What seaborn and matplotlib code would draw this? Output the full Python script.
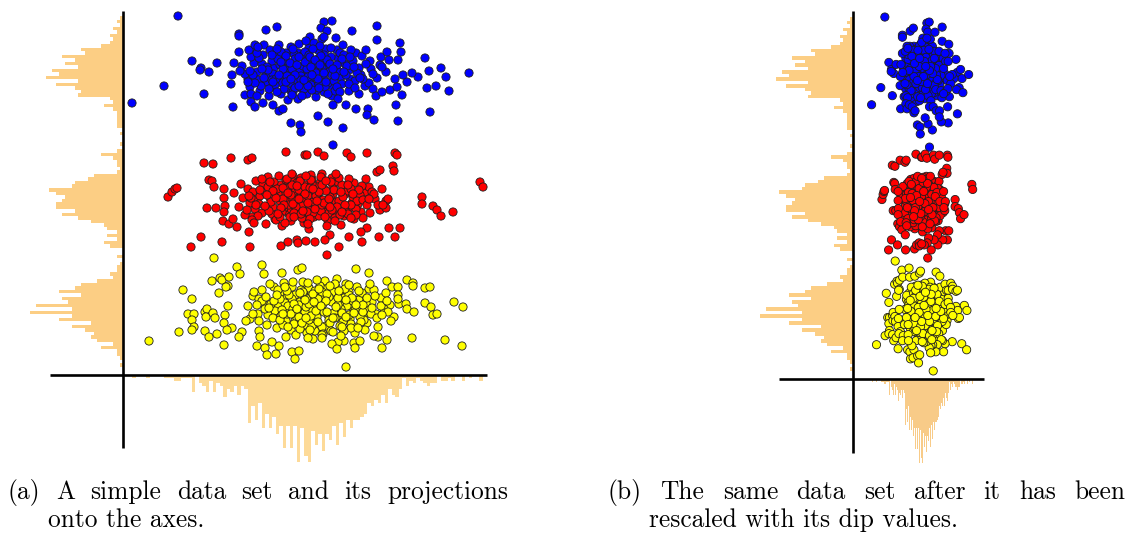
import numpy as np
import pandas as pd
import seaborn as sns
import matplotlib
matplotlib.use("Agg")
import matplotlib.pyplot as plt
from matplotlib.lines import Line2D

# ---------------------------------------------------------------------------
# Data: three clusters of (x, y) observations
# ---------------------------------------------------------------------------
blue_pts = [
    (152, 318), (201, 296), (175, 322), (190, 289), (143, 301), (222, 311), (168, 284), (186, 327), (131, 312), (209, 279),
    (177, 305), (160, 297), (238, 300), (195, 316), (148, 288), (214, 325), (182, 292), (125, 296), (199, 336), (171, 313),
    (156, 330), (229, 287), (188, 303), (140, 320), (205, 309), (165, 275), (247, 314), (184, 281), (119, 309), (218, 298),
    (173, 291), (196, 324), (151, 307), (233, 322), (162, 316), (209, 289), (187, 338), (137, 284), (226, 305), (179, 319),
    (145, 298), (201, 283), (168, 328), (254, 297), (190, 310), (131, 326), (215, 317), (158, 281), (242, 289), (176, 297),
    (193, 278), (149, 314), (220, 330), (183, 300), (127, 288), (206, 303), (164, 309), (236, 281), (171, 321), (198, 293),
    (141, 330), (212, 284), (185, 315), (159, 292), (248, 306), (178, 287), (203, 326), (134, 303), (227, 296), (166, 302),
    (191, 332), (154, 322), (219, 291), (180, 309), (146, 279), (208, 318), (174, 294), (239, 319), (161, 286), (196, 305),
    (128, 318), (224, 309), (187, 296), (150, 301), (213, 337), (170, 283), (199, 312), (143, 293), (232, 294), (182, 323),
    (157, 310), (205, 292), (176, 331), (263, 303), (139, 311), (217, 322), (165, 296), (194, 285), (122, 301), (230, 314),
    (184, 306), (152, 290), (209, 300), (172, 316), (246, 292), (135, 295), (201, 320), (163, 322), (188, 290), (226, 284),
    (147, 325), (215, 304), (178, 299), (257, 310), (154, 283), (197, 329), (169, 306), (221, 320), (138, 289), (192, 298),
    (181, 286), (204, 315), (160, 303), (236, 307), (175, 276), (144, 308), (211, 294), (186, 320), (130, 300), (223, 300),
    (167, 292), (199, 307), (155, 316), (250, 301), (182, 313), (214, 288), (149, 295), (190, 326), (172, 287), (240, 296),
    (136, 317), (207, 311), (164, 299), (228, 325), (178, 295), (193, 302), (158, 323), (217, 283), (185, 298), (145, 305),
    (272, 296), (127, 304), (243, 311), (169, 280), (202, 288), (153, 296), (234, 302), (187, 318), (161, 314), (196, 291),
    (167, 312), (212, 299), (189, 285), (154, 326), (231, 308), (176, 289), (198, 319), (141, 297), (219, 316), (183, 334),
    (160, 306), (205, 281), (172, 300), (243, 325), (150, 293), (195, 296), (226, 291), (163, 319), (188, 308), (134, 322),
    (214, 310), (179, 279), (201, 302), (156, 300), (237, 297), (170, 326), (192, 315), (146, 286), (221, 303), (185, 289),
    (258, 318), (139, 306), (208, 327), (174, 310), (196, 287), (232, 287), (163, 293), (210, 306), (181, 295), (149, 320),
    (250, 286), (189, 300), (227, 318), (158, 313), (203, 293), (176, 318), (215, 276), (132, 292), (197, 310), (168, 296),
    (55, 359), (9, 272), (41, 289), (81, 281), (69, 314), (78, 307), (86, 303), (94, 312), (77, 305), (116, 341),
    (116, 339), (143, 345), (154, 348), (110, 268), (111, 312), (116, 323), (109, 300), (108, 291), (117, 304), (125, 293),
    (122, 280), (128, 281), (134, 279), (128, 273), (132, 268), (140, 272), (150, 270), (156, 264), (160, 266), (168, 252),
    (177, 250), (178, 243), (126, 325), (132, 330), (135, 328), (201, 353), (209, 354), (198, 347), (204, 344), (201, 338),
    (229, 344), (254, 349), (254, 335), (277, 332), (278, 323), (302, 317), (306, 304), (318, 307), (323, 298), (346, 302),
    (313, 289), (304, 287), (326, 284), (295, 298), (289, 302), (284, 293), (307, 263), (275, 254), (251, 255), (220, 247),
    (205, 253), (195, 259), (210, 270), (223, 270), (233, 266), (245, 266), (244, 260), (273, 270), (279, 280), (264, 323),
    (266, 315), (259, 308), (275, 315), (280, 300), (267, 285), (274, 288), (253, 279), (259, 283), (210, 230),
]

red_pts = [
    (158, 190), (203, 168), (177, 182), (221, 159), (134, 175), (189, 196), (166, 161), (242, 183), (147, 170), (210, 188),
    (181, 152), (125, 186), (229, 172), (170, 199), (196, 177), (152, 156), (215, 193), (187, 165), (116, 168), (238, 163),
    (162, 180), (205, 154), (175, 171), (133, 194), (222, 181), (191, 158), (148, 185), (252, 176), (168, 166), (199, 201),
    (139, 162), (213, 173), (183, 190), (159, 149), (231, 192), (174, 178), (120, 177), (206, 162), (187, 184), (145, 198),
    (226, 167), (164, 173), (197, 192), (129, 158), (246, 188), (178, 160), (155, 181), (218, 150), (171, 193), (200, 175),
    (141, 186), (235, 171), (184, 155), (161, 167), (209, 197), (127, 172), (192, 170), (151, 193), (224, 184), (168, 154),
    (257, 165), (137, 179), (201, 186), (176, 166), (214, 162), (149, 161), (188, 200), (230, 178), (165, 187), (111, 182),
    (196, 159), (157, 174), (219, 190), (181, 177), (143, 151), (240, 157), (172, 184), (205, 170), (132, 166), (226, 196),
    (186, 146), (163, 195), (210, 181), (147, 177), (249, 183), (179, 169), (122, 160), (198, 198), (167, 158), (233, 166),
    (154, 186), (216, 174), (190, 162), (140, 190), (204, 149), (174, 192), (263, 174), (159, 163), (228, 186), (185, 179),
    (130, 183), (212, 157), (170, 175), (243, 196), (150, 168), (194, 188), (162, 152), (222, 165), (178, 197), (136, 171),
    (207, 178), (184, 163), (237, 180), (156, 199), (198, 164), (118, 191), (176, 185), (216, 197), (146, 164), (190, 173),
    (255, 170), (168, 180), (202, 158), (142, 183), (225, 161), (182, 188), (153, 155), (211, 185), (173, 168), (247, 162),
    (128, 177), (195, 182), (160, 187), (234, 174), (179, 157), (214, 168), (139, 196), (189, 191), (166, 170), (231, 156),
    (151, 179), (208, 193), (185, 172), (124, 165), (220, 178), (171, 162), (199, 170), (145, 188), (239, 189), (177, 194),
    (160, 176), (217, 160), (193, 179), (135, 159), (228, 170), (169, 190), (203, 184), (148, 173), (187, 156), (251, 181),
    (170, 171), (209, 165), (187, 187), (153, 177), (225, 190), (178, 161), (196, 183), (142, 169), (233, 160), (164, 196),
    (201, 172), (185, 151), (218, 183), (157, 158), (240, 175), (174, 189), (192, 166), (137, 185), (213, 201), (182, 181),
    (161, 170), (228, 157), (199, 190), (150, 184), (244, 170), (171, 158), (206, 176), (126, 179), (222, 170), (188, 195),
    (165, 182), (236, 185), (180, 164), (212, 154), (147, 193), (194, 174), (259, 186), (158, 167), (203, 194), (176, 176),
    (219, 163), (133, 170), (190, 186), (169, 201), (230, 181), (155, 161), (207, 168), (183, 199), (246, 176), (144, 180),
    (45, 178), (49, 183), (52, 186), (54, 187), (81, 212), (90, 211), (108, 217), (125, 215), (129, 217), (163, 223),
    (182, 220), (86, 195), (89, 194), (91, 188), (84, 167), (93, 167), (101, 186), (101, 177), (102, 169), (101, 163),
    (100, 154), (106, 151), (114, 148), (110, 156), (78, 138), (99, 133), (68, 128), (126, 143), (127, 128), (129, 155),
    (131, 152), (158, 129), (165, 133), (174, 135), (175, 132), (184, 220), (195, 223), (201, 219), (224, 222), (228, 218),
    (244, 222), (272, 222), (274, 220), (357, 193), (360, 188), (299, 178), (299, 171), (310, 169), (314, 165), (318, 159),
    (330, 163), (270, 209), (271, 204), (254, 203), (257, 205), (265, 176), (263, 167), (260, 170), (266, 147), (277, 147),
    (272, 138), (256, 138), (239, 133), (244, 147), (238, 143), (216, 128), (226, 138), (207, 140), (202, 135), (192, 133),
    (183, 134), (204, 120),
]

yellow_pts = [
    (172, 80), (214, 58), (190, 71), (236, 64), (151, 88), (203, 49), (181, 62), (258, 77), (163, 54), (226, 83),
    (197, 67), (140, 72), (244, 52), (184, 90), (211, 74), (168, 45), (229, 68), (192, 57), (130, 79), (253, 61),
    (177, 73), (220, 46), (188, 84), (149, 63), (238, 79), (205, 60), (161, 92), (267, 70), (183, 50), (213, 88),
    (155, 70), (227, 56), (198, 78), (173, 40), (246, 86), (189, 65), (135, 61), (219, 72), (202, 94), (160, 78),
    (240, 59), (179, 68), (210, 83), (144, 50), (261, 66), (193, 52), (169, 76), (232, 42), (186, 87), (215, 64),
    (157, 82), (249, 73), (199, 48), (176, 61), (223, 91), (166, 67), (206, 55), (139, 85), (236, 75), (192, 44),
    (271, 58), (152, 64), (217, 80), (190, 70), (228, 51), (163, 38), (203, 86), (245, 67), (181, 79), (125, 69),
    (211, 62), (172, 54), (234, 88), (196, 74), (158, 59), (255, 48), (187, 66), (221, 77), (147, 91), (241, 55),
    (200, 41), (178, 85), (224, 69), (162, 72), (263, 82), (194, 58), (136, 76), (214, 96), (182, 63), (248, 61),
    (169, 88), (230, 74), (207, 52), (154, 47), (218, 66), (185, 76), (276, 71), (174, 57), (242, 45), (199, 83),
    (145, 60), (226, 80), (189, 49), (265, 63), (165, 69), (209, 73), (180, 93), (237, 58), (157, 76), (201, 63),
    (131, 83), (191, 79), (220, 53), (170, 66), (251, 85), (184, 42), (215, 70), (150, 57), (232, 65), (197, 89),
    (268, 54), (176, 70), (206, 78), (142, 66), (243, 72), (186, 55), (222, 86), (164, 61), (194, 95), (234, 48),
    (139, 74), (212, 57), (180, 83), (258, 69), (160, 50), (200, 71), (229, 77), (173, 63), (247, 91), (188, 59),
    (155, 85), (217, 49), (195, 76), (127, 56), (239, 82), (183, 68), (208, 44), (166, 80), (226, 60), (192, 84),
    (148, 71), (254, 57), (177, 46), (212, 91), (186, 71), (240, 63), (159, 65), (204, 81), (171, 51), (223, 75),
    (182, 75), (219, 62), (195, 53), (164, 84), (240, 70), (176, 58), (207, 89), (151, 74), (228, 47), (190, 81),
    (168, 61), (213, 68), (199, 40), (157, 55), (252, 79), (185, 92), (223, 58), (171, 71), (236, 84), (146, 67),
    (203, 74), (179, 52), (259, 60), (162, 88), (215, 77), (193, 64), (134, 70), (231, 62), (187, 45), (210, 57),
    (170, 93), (244, 77), (198, 69), (154, 80), (226, 90), (183, 57), (264, 74), (165, 48), (204, 63), (238, 53),
    (177, 82), (216, 84), (191, 73), (143, 78), (249, 67), (174, 66), (221, 44), (196, 86), (160, 61), (233, 70),
    (91, 117), (26, 34), (56, 43), (60, 85), (69, 76), (65, 61), (71, 61), (69, 55), (71, 48), (69, 45),
    (82, 44), (86, 38), (94, 41), (101, 30), (82, 63), (84, 66), (83, 58), (90, 62), (92, 57), (89, 94),
    (96, 82), (97, 97), (99, 95), (106, 98), (105, 89), (103, 88), (114, 108), (117, 101), (139, 110), (141, 101),
    (159, 102), (175, 105), (179, 107), (105, 69), (102, 60), (101, 52), (109, 47), (104, 45), (119, 43), (116, 38),
    (123, 54), (130, 61), (134, 29), (142, 27), (144, 20), (153, 21), (156, 29), (149, 33), (136, 54), (136, 44),
    (137, 38), (169, 23), (172, 16), (176, 24), (223, 8), (233, 106), (246, 102), (264, 94), (269, 88), (275, 88),
    (275, 80), (275, 76), (284, 95), (290, 92), (290, 89), (302, 87), (307, 88), (302, 72), (308, 68), (310, 60),
    (314, 61), (331, 73), (340, 68), (283, 71), (284, 66), (291, 63), (289, 37), (322, 35), (339, 29), (264, 35),
    (259, 27), (255, 38), (251, 39), (235, 47), (231, 32), (237, 34), (232, 27), (221, 34), (215, 33), (209, 31),
    (214, 26), (199, 37), (190, 36), (185, 37), (210, 43), (218, 39), (219, 48),
]

cluster_names = ["blue", "red", "yellow"]
cluster_colors = {"blue": "#0000FF", "red": "#FF0000", "yellow": "#FFFF00"}

# dip-based rescaling factors for the second view
x_dip_scale = 0.288
y_dip_scale = 1.0

# ---------------------------------------------------------------------------
frames = []
for name, pts in zip(cluster_names, [blue_pts, red_pts, yellow_pts]):
    arr = np.array(pts, dtype=float)
    frames.append(pd.DataFrame({"x": arr[:, 0], "y": arr[:, 1], "cluster": name}))
df = pd.concat(frames, ignore_index=True)
df["x_scaled"] = df["x"] * x_dip_scale
df["y_scaled"] = df["y"] * y_dip_scale

W, H = 1129, 535
fig = plt.figure(figsize=(W / 100, H / 100), dpi=100)
fig.patch.set_facecolor("white")

LEFT_HIST_COLOR = "#FCCE84"
N_BINS = 100


def rect(left, top, right, bottom):
    return [left / W, 1 - bottom / H, (right - left) / W, (bottom - top) / H]


def hline(x0, x1, y):
    fig.add_artist(Line2D([x0 / W, x1 / W], [1 - y / H, 1 - y / H],
                          transform=fig.transFigure, color="black", lw=1.9,
                          solid_capstyle="butt", zorder=10))


def vline(x, y0, y1):
    fig.add_artist(Line2D([x / W, x / W], [1 - y0 / H, 1 - y1 / H],
                          transform=fig.transFigure, color="black", lw=1.9,
                          solid_capstyle="butt", zorder=10))


def draw_panel(xcol, ycol, origin_x, axis_y, right, top, left_hist_x,
               bottom_hist_y, xlim, ylim, bot_color):
    xv = df[xcol].to_numpy()
    yv = df[ycol].to_numpy()

    # left projection (y values)
    ax_l = fig.add_axes(rect(left_hist_x, top, origin_x, axis_y))
    edges_y = np.linspace(yv.min(), yv.max(), N_BINS + 1)
    cy = np.histogram(yv, edges_y)[0]
    sns.histplot(y=yv, bins=edges_y, ax=ax_l, color=LEFT_HIST_COLOR,
                 edgecolor="none", linewidth=0, alpha=1)
    ax_l.set_xlim(cy.max(), 0)
    ax_l.set_ylim(*ylim)
    ax_l.set_axis_off()

    # bottom projection (x values)
    ax_b = fig.add_axes(rect(origin_x, axis_y, right, bottom_hist_y))
    edges_x = np.linspace(xv.min(), xv.max(), N_BINS + 1)
    cx = np.histogram(xv, edges_x)[0]
    sns.histplot(x=xv, bins=edges_x, ax=ax_b, color=bot_color,
                 edgecolor="none", linewidth=0, alpha=1)
    ax_b.set_ylim(cx.max(), 0)
    ax_b.set_xlim(*xlim)
    ax_b.set_axis_off()

    # scatter of the data set
    ax_m = fig.add_axes(rect(origin_x, top, right, axis_y))
    sns.scatterplot(data=df, x=xcol, y=ycol, hue="cluster",
                    palette=cluster_colors, s=35, edgecolor="#1e1e1e",
                    linewidth=0.6, legend=False, ax=ax_m, clip_on=False)
    ax_m.set_xlim(*xlim)
    ax_m.set_ylim(*ylim)
    ax_m.set_axis_off()


# (a) original data
draw_panel("x", "y", origin_x=123, axis_y=375, right=487, top=11,
           left_hist_x=30, bottom_hist_y=462, xlim=(0, 364), ylim=(0, 364),
           bot_color="#FDDA98")
hline(50, 487, 375)
vline(123, 11, 448)

# (b) rescaled data
draw_panel("x_scaled", "y_scaled", origin_x=853, axis_y=379, right=984, top=12,
           left_hist_x=760, bottom_hist_y=463, xlim=(-16, 115), ylim=(0, 364),
           bot_color="#F8CB88")
hline(779, 984, 379)
vline(853, 11, 453)

# ---------------------------------------------------------------------------
# captions (justified first line)
CAP_FONT = dict(family="cmr10", fontsize=18.3, color="black", va="baseline")
renderer = fig.canvas.get_renderer()


def justified(words, x0, x1, y):
    texts = [fig.text(0, 1 - y / H, w, **CAP_FONT) for w in words]
    widths = [t.get_window_extent(renderer).width for t in texts]
    gap = (x1 - x0 - sum(widths)) / (len(words) - 1)
    x = x0
    for t, w in zip(texts, widths):
        t.set_x(x / W)
        x += w + gap


justified("(a) A simple data set and its projections".split(), 8, 508, 499)
fig.text(48 / W, 1 - 527 / H, "onto the axes.", **CAP_FONT)
justified("(b) The same data set after it has been".split(), 608, 1125, 499)
fig.text(649 / W, 1 - 527 / H, "rescaled with its dip values.", **CAP_FONT)

fig.savefig("out.png", dpi=100, facecolor="white")
